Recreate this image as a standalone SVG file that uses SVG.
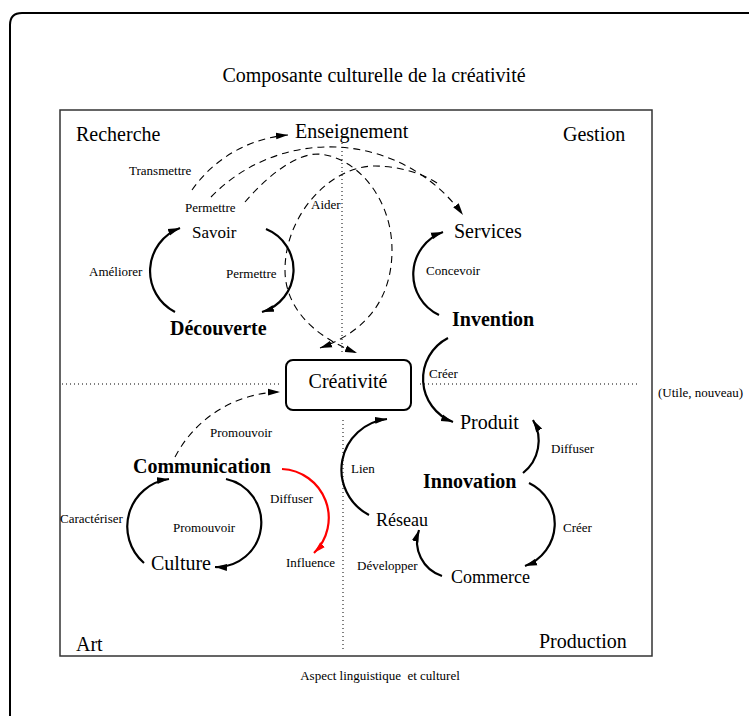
<svg xmlns="http://www.w3.org/2000/svg" width="749" height="716" viewBox="0 0 749 716">
<defs>
<marker id="ah" markerUnits="userSpaceOnUse" markerWidth="13" markerHeight="8" refX="12" refY="4" orient="auto" viewBox="0 0 13 8"><path d="M0,0.6 L12,4 L0,7.4 z" fill="#000"/></marker>
<marker id="ahr" markerUnits="userSpaceOnUse" markerWidth="13" markerHeight="8" refX="12" refY="4" orient="auto" viewBox="0 0 13 8"><path d="M0,0.6 L12,4 L0,7.4 z" fill="#f00"/></marker>
</defs>
<style>
.t{font-family:"Liberation Serif","Times New Roman",serif;fill:#000}
.n{font-size:20px}
.m{font-size:18px}
.b{font-weight:bold}
.s{font-size:13px}
.arc{fill:none;stroke:#000;stroke-width:2.2;marker-end:url(#ah)}
.red{fill:none;stroke:#f00;stroke-width:2.2;marker-end:url(#ahr)}
.dash{fill:none;stroke:#000;stroke-width:1.1;stroke-dasharray:7 5;marker-end:url(#ah)}
.dot{fill:none;stroke:#000;stroke-width:1;stroke-dasharray:1 3}
</style>
<rect x="0" y="0" width="749" height="716" fill="#fff"/>
<g id="frame">
<path d="M10,716 V25 Q10,13 22,13 H749" fill="none" stroke="#000" stroke-width="2"/>
<rect x="60" y="110" width="592" height="546" fill="none" stroke="#333" stroke-width="1.5"/>
<text class="t n" x="374" y="82" text-anchor="middle">Composante culturelle de la créativité</text>
<text class="t s" x="380" y="680" text-anchor="middle">Aspect linguistique&#160; et culturel</text>
<text class="t s" x="658" y="397">(Utile, nouveau)</text>
<line class="dot" x1="342" y1="143" x2="342" y2="352"/>
<line class="dot" x1="343" y1="420" x2="343" y2="652"/>
<line class="dot" x1="62" y1="384" x2="282" y2="384"/>
<line class="dot" x1="420" y1="384" x2="638" y2="384"/>
</g>
<g id="quadrants">
<text class="t n" x="76" y="141">Recherche</text>
<text class="t n" x="563" y="141">Gestion</text>
<text class="t n" x="76" y="651">Art</text>
<text class="t n" x="539" y="648">Production</text>
</g>
<g id="enseignement"><text class="t n" x="295" y="138">Enseignement</text></g>
<g id="savoir"><text class="t" style="font-size:17px" x="192" y="238">Savoir</text></g>
<g id="services"><text class="t n" x="454" y="238">Services</text></g>
<g id="decouverte"><text class="t n b" x="170" y="335">Découverte</text></g>
<g id="invention"><text class="t n b" x="452" y="326">Invention</text></g>
<g id="creativite"><rect x="286" y="360" width="125" height="50" rx="7" fill="#fff" stroke="#000" stroke-width="2"/><text class="t n" x="348" y="388" text-anchor="middle">Créativité</text></g>
<g id="produit"><text class="t n" x="460" y="429">Produit</text></g>
<g id="communication"><text class="t n b" x="133" y="473">Communication</text></g>
<g id="innovation"><text class="t n b" x="423" y="488">Innovation</text></g>
<g id="reseau"><text class="t m" x="376" y="526">Réseau</text></g>
<g id="culture"><text class="t n" x="151" y="570">Culture</text></g>
<g id="influence"><text class="t s" x="286" y="567">Influence</text></g>
<g id="commerce"><text class="t m" x="451" y="583">Commerce</text></g>
<g id="connectors">
<path class="dash" d="M192,190 A130,130 0 0 1 288,135"/>
<path class="dash" d="M211,197 A165,165 0 0 1 463,215"/>
<path class="dash" d="M245,202 C262,182 292,154 318,154 C355,156 392,197 392,250 C392,295 370,330 320,348"/>
<path class="dash" d="M437,183 C420,172 395,166 375,166 C330,166 285,215 285,270 C285,305 310,335 357,353"/>
<path class="dash" d="M175,457 A121,121 0 0 1 280,392"/>
<path class="arc" d="M175,312 A46,46 0 0 1 180,228"/>
<path class="arc" d="M266,229 A44,44 0 0 1 262,312"/>
<path class="arc" d="M439,315 A45,45 0 0 1 443,232"/>
<path class="arc" d="M448,338 A46,46 0 0 0 453,422"/>
<path class="arc" d="M523,473 A41,41 0 0 0 533,420"/>
<path class="arc" d="M529,483 A45,45 0 0 1 525,566"/>
<path class="arc" d="M442,576 A36,36 0 0 1 419,530"/>
<path class="arc" d="M369,515 A51,51 0 0 1 387,419"/>
<path class="arc" d="M144,563 A48,48 0 0 1 169,479"/>
<path class="arc" d="M226,479 A44.5,44.5 0 0 1 215,567"/>
<path class="red" d="M282,469 A49,49 0 0 1 314,553"/>
<text class="t s" x="129" y="175">Transmettre</text>
<text class="t s" x="185" y="212">Permettre</text>
<text class="t s" x="311" y="209">Aider</text>
<text class="t s" x="89" y="276">Améliorer</text>
<text class="t s" x="226" y="278">Permettre</text>
<text class="t s" x="426" y="275">Concevoir</text>
<text class="t s" x="429" y="378">Créer</text>
<text class="t s" x="210" y="437">Promouvoir</text>
<text class="t s" x="551" y="453">Diffuser</text>
<text class="t s" x="351" y="473">Lien</text>
<text class="t s" x="270" y="503">Diffuser</text>
<text class="t s" x="60" y="523">Caractériser</text>
<text class="t s" x="173" y="532">Promouvoir</text>
<text class="t s" x="563" y="532">Créer</text>
<text class="t s" x="357" y="570">Développer</text>
</g>
</svg>
